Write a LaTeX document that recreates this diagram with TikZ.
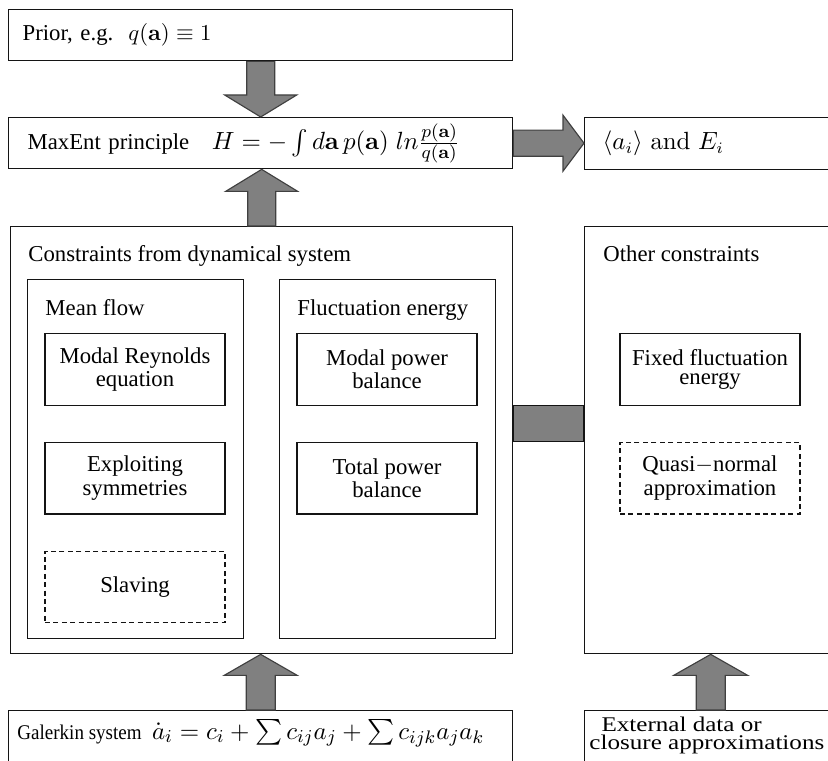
\documentclass[tikz,border=0pt]{standalone}
\usepackage{amsmath,amssymb}
\usepackage[no-math]{fontspec}
\setmainfont{Liberation Serif}
\usepackage{xcolor}
\usepackage{tikz}
\usetikzlibrary{calc,positioning}
\definecolor{gink}{gray}{0.08}
\definecolor{gedge}{gray}{0.25}
\definecolor{gfill}{gray}{0.50}
\newcommand{\px}{0.44pt}
\newcommand{\mathsz}[1]{\fontsize{#1}{12}\selectfont}

\tikzset{
  box/.style={draw=gink, line width=0.6pt, inner sep=0pt},
  linebox/.style={box, anchor=north west, align=left, minimum height=51*\px},
  frame/.style={box, anchor=north west},
  block/.style={box, minimum width=180*\px, minimum height=71.5*\px, align=center},
  dashblock/.style={block, dash pattern=on 2.2pt off 1.5pt},
  title/.style={anchor=base west, inner sep=0pt},
  band/.style={draw=gink, fill=gfill, line width=0.5pt},
  fatarrow/.style n args={3}{draw=gedge, fill=gfill, line width=0.5pt,
    to path={let \p1=(\tikztostart), \p2=(\tikztotarget),
      \n1={atan2(\y2-\y1,\x2-\x1)} in
      ($(\p1)+({\n1+90}:#1)$) -- ($(\p2)+({\n1+180}:#3)+({\n1+90}:#1)$)
      -- ($(\p2)+({\n1+180}:#3)+({\n1+90}:#2)$) -- (\p2)
      -- ($(\p2)+({\n1+180}:#3)+({\n1-90}:#2)$)
      -- ($(\p2)+({\n1+180}:#3)+({\n1-90}:#1)$)
      -- ($(\p1)+({\n1-90}:#1)$) -- cycle}},
}

\begin{document}
\begin{tikzpicture}[x=0.44pt, y=-0.44pt, node distance=15.8pt,
    font=\fontsize{10}{10.3}\selectfont]
  \useasboundingbox (0,0) rectangle (828,761);
  \clip (0,0) rectangle (828,761);
  % top row
  \node[linebox, inner xsep=14*\px, text width=209.44pt] (prior) at (8,9)
    {Prior, e.g.\ \ {\mathsz{10.4}$q(\mathbf{a})\equiv 1$}};
  \node[linebox, inner xsep=19*\px, text width=205.04pt] (maxent) at (8,117)
    {MaxEnt principle\quad{\mathsz{10.9}$H=-\int d\mathbf{a}\,p(\mathbf{a})\;ln\frac{p(\mathbf{a})}{q(\mathbf{a})}$}};
  \node[linebox, inner xsep=18*\px, text width=95.04pt, minimum height=52*\px] (result) at (584,117)
    {{\mathsz{10.7}$\langle a_i\rangle\ \mathrm{and}\ E_i$}};
  % constraints from the dynamical system
  \node[frame, minimum width=502*\px, minimum height=427*\px] (cons) at (10,226) {};
  \node[title] (constitle) at (28,261) {Constraints from dynamical system};
  \node[frame, minimum width=216*\px, minimum height=359*\px] (mean) at (27,279) {};
  \node[title] (meantitle) at (45,315) {Mean flow};
  \node[frame, minimum width=216*\px, minimum height=359*\px] (fluct) at (279,279) {};
  \node[title] (flucttitle) at (297,315) {Fluctuation energy};
  \node[block, anchor=north] (reyn) at (135,333) {Modal Reynolds\\equation};
  \node[block, below=of reyn] (symm) {Exploiting\\symmetries};
  \node[dashblock, below=of symm] (slav) {Slaving};
  \node[block, anchor=north] (powb) at (387,333) {Modal power\\balance};
  \node[block, below=of powb] (totb) {Total power\\balance};
  % other constraints
  \node[frame, minimum width=252*\px, minimum height=427*\px] (other) at (584,226) {};
  \node[title] (othertitle) at (603,261) {Other constraints};
  \node[block, anchor=north, font=\fontsize{10}{8.5}\selectfont] (fixe) at (710,333)
    {Fixed fluctuation\\energy};
  \node[dashblock, below=of fixe] (quas) {Quasi$-$normal\\approximation};
  % bottom row
  \node[frame, minimum width=504*\px, minimum height=60*\px] (galerkin) at (8,710) {};
  \node[title, font=\fontsize{9.2}{11}\selectfont] (galerkintxt) at (17,739)
    {\scalebox{0.91}[1]{Galerkin system}\ \ {\mathsz{11.3}$\dot a_i=c_i+\sum c_{ij}a_j+\sum c_{ijk}a_ja_k$}};
  \node[frame, minimum width=252*\px, minimum height=60*\px] (external) at (584,710) {};
  \node[anchor=north west, inner sep=0pt, align=left, font=\fontsize{9.2}{7.9}\selectfont]
    (externaltxt) at (589,716.5)
    {\hspace*{5.3pt}\scalebox{1.2}[1]{External data or}\\\scalebox{1.2}[1]{closure approximations}};
  % fat arrows
  \draw[fatarrow={6.16pt}{15.84pt}{9.68pt}] (prior.south) to (maxent.north);
  \draw[fatarrow={6.16pt}{15.84pt}{9.68pt}] (cons.north) to (cons.north |- maxent.south);
  \draw[fatarrow={5.72pt}{12.32pt}{9.24pt}] (maxent.east) to (maxent.east -| result.west);
  \draw[fatarrow={6.38pt}{16.06pt}{9.24pt}] (galerkin.north) to (galerkin.north |- cons.south);
  \draw[fatarrow={6.38pt}{16.28pt}{9.24pt}] (external.north) to (external.north |- other.south);
  \draw[band] ([yshift=15.18pt]cons.east) rectangle ([yshift=-0.66pt]other.west);
\end{tikzpicture}
\end{document}
